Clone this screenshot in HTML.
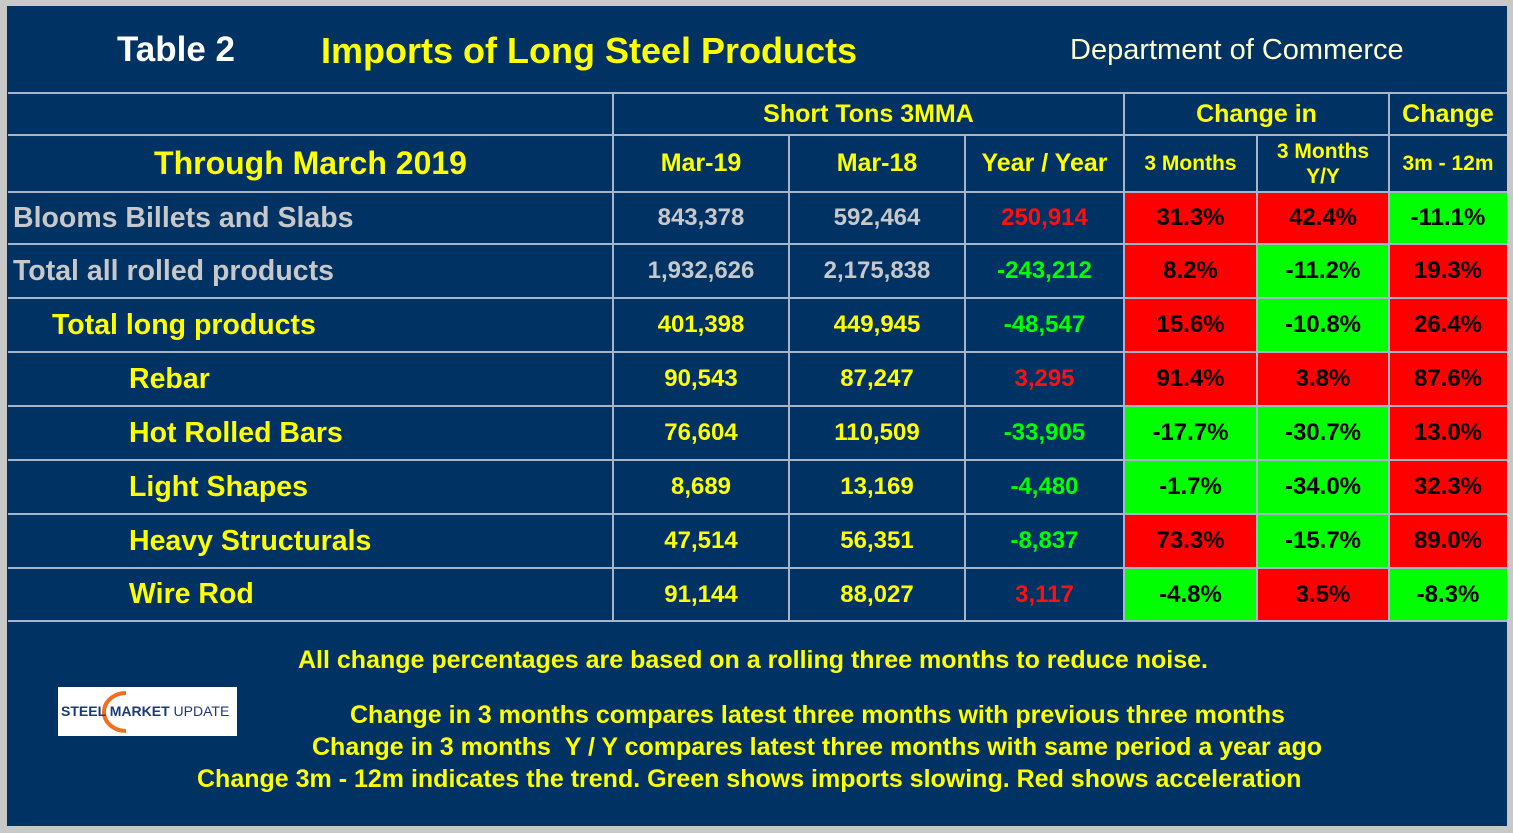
<!DOCTYPE html>
<html><head><meta charset="utf-8">
<style>
body{margin:0;width:1513px;height:833px;overflow:hidden;background:#c8c8c8;font-family:"Liberation Sans",Arial,sans-serif;font-weight:bold}
#panel{position:absolute;left:7px;top:6px;width:1500px;height:820px;background:#003264}
.t{position:absolute;white-space:nowrap}
.c{position:absolute;display:flex;align-items:center;justify-content:center;box-sizing:border-box;white-space:nowrap}
.hl{position:absolute;height:2px;background:#a8b4c8}
.vl{position:absolute;width:2px;background:#a8b4c8}
</style></head><body>
<div id="panel"></div>
<div class="t" style="left:117px;top:30px;font-size:35px;color:#fff">Table 2</div>
<div class="t" style="left:321px;top:30px;font-size:36px;color:#ffff00">Imports of Long Steel Products</div>
<div class="t" style="left:1070px;top:34px;font-size:29px;font-weight:normal;color:#ffffcc">Department of Commerce</div>
<div id="tbl"></div>
<div class="t" style="left:298px;top:646px;font-size:25px;color:#ffff00">All change percentages are based on a rolling three months to reduce noise.</div>
<div class="t" style="left:350px;top:701px;font-size:25px;color:#ffff00">Change in 3 months compares latest three months with previous three months</div>
<div class="t" style="left:312px;top:733px;font-size:25px;color:#ffff00">Change in 3 months &nbsp;Y / Y compares latest three months with same period a year ago</div>
<div class="t" style="left:197px;top:765px;font-size:25px;color:#ffff00">Change 3m - 12m indicates the trend. Green shows imports slowing. Red shows acceleration</div>
<div style="position:absolute;left:58px;top:687px;width:179px;height:49px;background:#fff;overflow:hidden">
<svg width="179" height="49" style="position:absolute;left:0;top:0"><path d="M68 6 A22 19 0 1 0 68 44" fill="none" stroke="#f07020" stroke-width="4"/></svg>
<div class="t" style="left:3px;top:16px;font-size:14px;color:#1a3a7a">STEEL MARKET <span style="font-weight:normal">UPDATE</span></div>
</div>
<script>
const labels=["Blooms Billets and Slabs","Total all rolled products","Total long products","Rebar","Hot Rolled Bars","Light Shapes","Heavy Structurals","Wire Rod"];
const indents=[0,0,1,2,2,2,2,2];
const mar19=["843,378","1,932,626","401,398","90,543","76,604","8,689","47,514","91,144"];
const mar18=["592,464","2,175,838","449,945","87,247","110,509","13,169","56,351","88,027"];
const yoy=["250,914","-243,212","-48,547","3,295","-33,905","-4,480","-8,837","3,117"];
const ch3=["31.3%","8.2%","15.6%","91.4%","-17.7%","-1.7%","73.3%","-4.8%"];
const ch3yy=["42.4%","-11.2%","-10.8%","3.8%","-30.7%","-34.0%","-15.7%","3.5%"];
const ch312=["-11.1%","19.3%","26.4%","87.6%","13.0%","32.3%","89.0%","-8.3%"];
const T=document.getElementById('tbl');
const X=[8,613,789,965,1124,1257,1389,1507];
const Y=[93,135,192,244,298,352,406,460,514,568,621];
function cell(x,y,w,h,txt,size,color,bg,name,align,pad){
 const d=document.createElement('div');d.className='c';
 d.style.cssText=`left:${x}px;top:${y}px;width:${w}px;height:${h}px;font-size:${size}px;color:${color};background:${bg||'transparent'};${align?'justify-content:flex-start;padding-left:'+pad+'px':''}`;
 d.textContent=txt;
 
 
 T.appendChild(d);return d;}
cell(613,93,511,42,"Short Tons 3MMA",25,"#ff0","", "header-short-tons");
cell(1124,93,265,42,"Change in",25,"#ff0","", "header-change-in");
cell(1389,93,118,42,"Change",25,"#ff0","", "header-change");
cell(8,135,605,57,"Through March 2019",32,"#ff0","", "header-period");
cell(613,135,176,57,"Mar-19",25,"#ff0","", "header-mar19");
cell(789,135,176,57,"Mar-18",25,"#ff0","", "header-mar18");
cell(965,135,159,57,"Year / Year",25,"#ff0","", "header-yoy");
cell(1124,135,133,57,"3 Months",21,"#ff0","", "header-3m");
const h=cell(1257,135,132,57,"",21,"#ff0","", "header-3m-yy");h.innerHTML="<div style='text-align:center;line-height:25px'>3 Months<br>Y/Y</div>";
cell(1389,135,118,57,"3m - 12m",21,"#ff0","", "header-3m-12m");
const pc=v=>v.startsWith('-')?'#00ff00':'#ff0000';
for(let i=0;i<labels.length;i++){
 const y=Y[i+2],hh=Y[i+3]-y;
 const lc=i<2?'#c8c8c8':'#ffff00';
 cell(8,y,605,hh,labels[i],28.5,lc,"","row-label",true,[5,44,121][indents[i]]);
 cell(613,y,176,hh,mar19[i],24,i<2?'#c8c8c8':'#ff0',"","value-mar19");
 cell(789,y,176,hh,mar18[i],24,i<2?'#c8c8c8':'#ff0',"","value-mar18");
 cell(965,y,159,hh,yoy[i],24,yoy[i].startsWith('-')?'#00ff00':'#ff1010',"","value-yoy");
 cell(1124,y,133,hh,ch3[i],24,"#000",pc(ch3[i]),"value-change-3m");
 cell(1257,y,132,hh,ch3yy[i],24,"#000",pc(ch3yy[i]),"value-change-3m-yy");
 cell(1389,y,118,hh,ch312[i],24,"#000",pc(ch312[i]),"value-change-3m-12m");
}
for(const y of Y){const l=document.createElement('div');l.className='hl';l.style.cssText=`left:8px;top:${y-1}px;width:1499px`;
 
 
 T.appendChild(l);}
X.slice(1,7).forEach((x,k)=>{const top=(k==1||k==2||k==4)?135:93;const l=document.createElement('div');l.className='vl';l.style.cssText=`left:${x-1}px;top:${top}px;height:${621-top}px`;
 
 
 T.appendChild(l);});
</script>
</body></html>
